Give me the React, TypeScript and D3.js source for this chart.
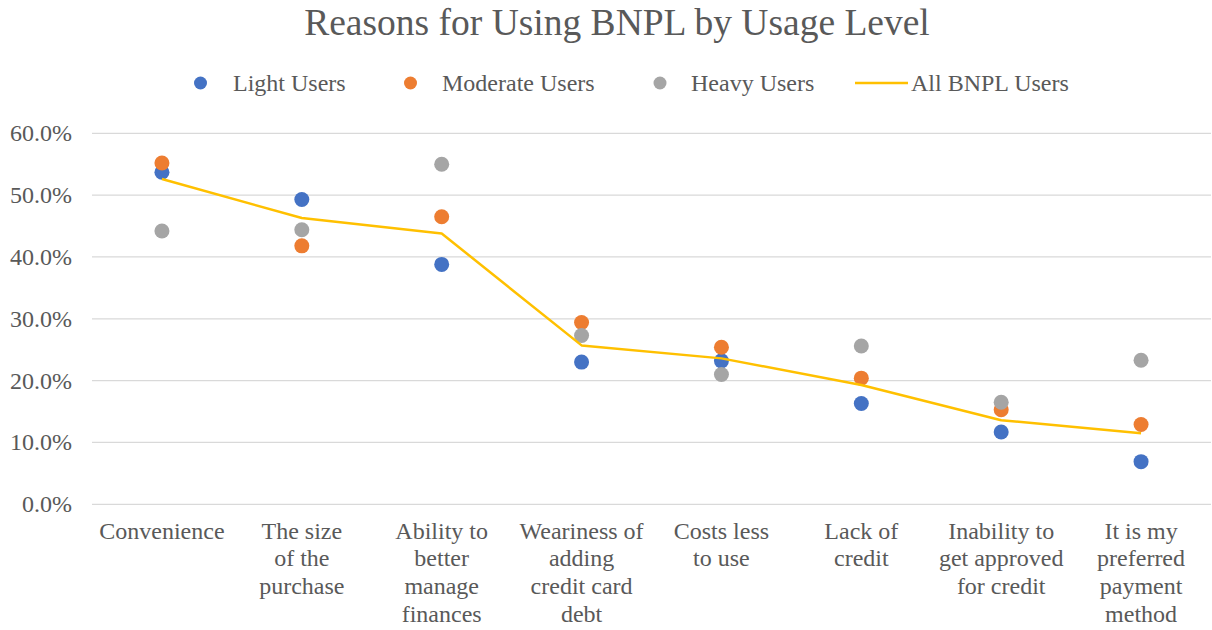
import React from "react";
import * as d3 from "d3";

const categories: string[][] = [
  ["Convenience"],
  ["The size", "of the", "purchase"],
  ["Ability to", "better", "manage", "finances"],
  ["Weariness of", "adding", "credit card", "debt"],
  ["Costs less", "to use"],
  ["Lack of", "credit"],
  ["Inability to", "get approved", "for credit"],
  ["It is my", "preferred", "payment", "method"],
];
const lightUsers = [0.537, 0.493, 0.388, 0.23, 0.232, 0.163, 0.117, 0.069];
const moderateUsers = [0.552, 0.418, 0.465, 0.294, 0.254, 0.204, 0.153, 0.129];
const heavyUsers = [0.442, 0.444, 0.55, 0.273, 0.21, 0.256, 0.165, 0.233];
const allUsers = [0.526, 0.463, 0.438, 0.257, 0.236, 0.193, 0.136, 0.115];
const yTicks = [0, 0.1, 0.2, 0.3, 0.4, 0.5, 0.6];

const W = 1212;
const H = 630;
const FONT = "'Liberation Serif', 'Times New Roman', serif";
const TEXT = "#595959";

export default function App() {
  const left = 92;
  const right = 1211;
  const top = 133.3;
  const bottom = 504.3;
  const x = d3
    .scaleBand<number>()
    .domain(categories.map((_, i) => i))
    .range([left, right]);
  const cx = (i: number) => (x(i) as number) + x.bandwidth() / 2;
  const y = d3.scaleLinear().domain([0, 0.6]).range([bottom, top]);
  const fmt = d3.format(".1%");
  const line = d3
    .line<number>()
    .x((_, i) => cx(i))
    .y((d) => y(d));

  const dotSeries = [
    { name: "Light Users", values: lightUsers, color: "#4472C4" },
    { name: "Moderate Users", values: moderateUsers, color: "#ED7D31" },
    { name: "Heavy Users", values: heavyUsers, color: "#A5A5A5" },
  ];

  return (
    <svg
      width={W}
      height={H}
      style={{ position: "absolute", left: 0, top: 0, background: "#fff" }}
      fontFamily={FONT}
    >
      <rect width={W} height={H} fill="#fff" />
      <text x={617} y={35} textAnchor="middle" fontSize={37.5} fill={TEXT}>
        Reasons for Using BNPL by Usage Level
      </text>
      {/* legend */}
      <g fontSize={24} fill={TEXT}>
        <circle cx={200.5} cy={83} r={6.5} fill="#4472C4" />
        <text x={233} y={91}>Light Users</text>
        <circle cx={410.5} cy={83} r={6.5} fill="#ED7D31" />
        <text x={442} y={91}>Moderate Users</text>
        <circle cx={660} cy={83} r={6.5} fill="#A5A5A5" />
        <text x={691} y={91}>Heavy Users</text>
        <line x1={855} x2={908} y1={83} y2={83} stroke="#FFC000" strokeWidth={2.5} />
        <text x={911} y={91}>All BNPL Users</text>
      </g>
      {/* grid and y ticks */}
      {yTicks.map((t) => (
        <g key={t}>
          <line
            x1={left}
            x2={right}
            y1={y(t)}
            y2={y(t)}
            stroke="#D9D9D9"
            strokeWidth={1.3}
          />
          <text
            x={72}
            y={y(t) + 8}
            textAnchor="end"
            fontSize={24}
            fill={TEXT}
          >
            {fmt(t)}
          </text>
        </g>
      ))}
      {/* category labels */}
      {categories.map((lines, i) => (
        <text key={i} textAnchor="middle" fontSize={24} fill={TEXT}>
          {lines.map((l, j) => (
            <tspan key={j} x={cx(i)} y={538.5 + j * 27.8}>
              {l}
            </tspan>
          ))}
        </text>
      ))}
      {/* dots */}
      {dotSeries.map((s) => (
        <g key={s.name}>
          {s.values.map((v, i) => (
            <circle key={i} cx={cx(i)} cy={y(v)} r={7.5} fill={s.color} />
          ))}
        </g>
      ))}
      <path
        d={line(allUsers) || ""}
        fill="none"
        stroke="#FFC000"
        strokeWidth={2.5}
        strokeLinejoin="round"
      />
    </svg>
  );
}
